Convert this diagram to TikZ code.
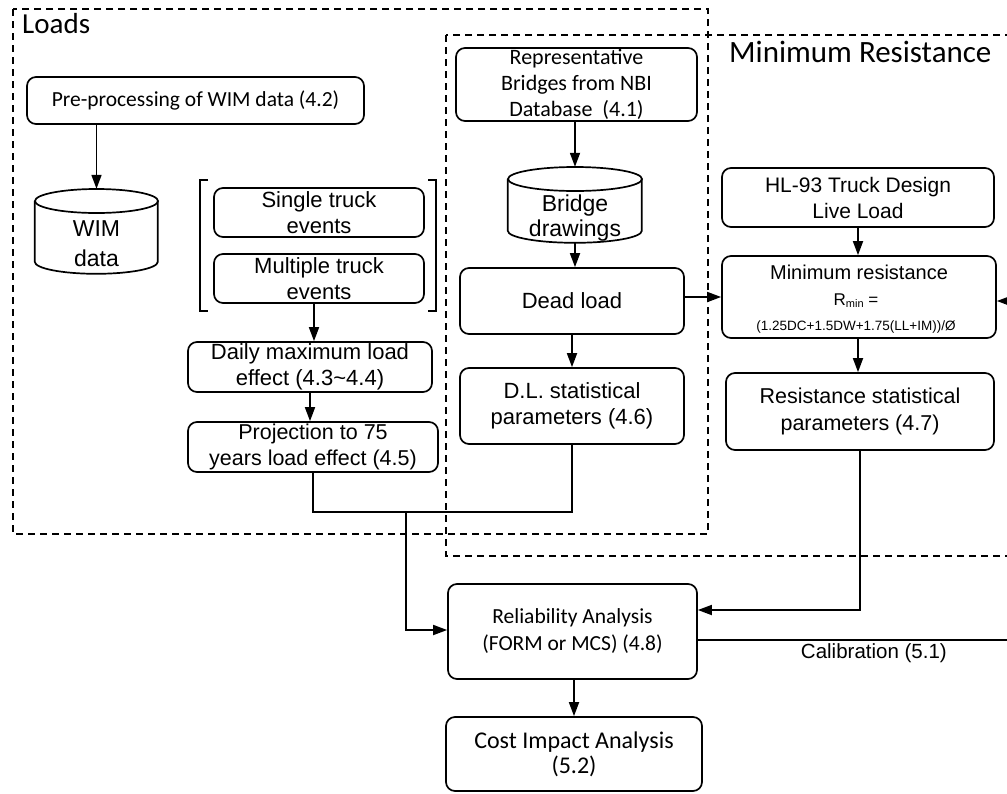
\documentclass[tikz,border=0pt]{standalone}
\usepackage{fontspec}
\newfontfamily\calf{Carlito}
\newfontfamily\arf{Liberation Sans}
\usetikzlibrary{arrows.meta}
\begin{document}
\begin{tikzpicture}[x=1pt,y=-1pt,
  box/.style={draw, line width=1.7pt, rounded corners=9pt, align=center, inner sep=0pt},
  ar/.style args={#1/#2}{font={\arf\fontsize{#1}{#2}\selectfont}},
  ca/.style args={#1/#2}{font={\calf\fontsize{#1}{#2}\selectfont}},
  arr/.style={line width=1.7pt, -{Triangle[length=14pt,width=10pt]}},
  wire/.style={line width=1.7pt},
  grp/.style={line width=1.5pt, dash pattern=on 7pt off 5pt},
]
\useasboundingbox (0,0) rectangle (1007,793);
\clip (0,0) rectangle (1007,793);

% groups
\draw[grp] (13,9) rectangle (708,534);
\draw[grp] (446,35) rectangle (1030,556);
\node[anchor=base west, inner sep=0pt, ca=29/29] (loadslbl) at (22,33) {Loads};
\node[anchor=base west, inner sep=0pt, ca=31/31] (minreslbl) at (729,62) {Minimum Resistance};

% loads column
\node[box, ca=21.5/26, minimum width=337pt, minimum height=47pt] (pre) at (195.5,100.5) {Pre-processing of WIM data (4.2)};
\node[minimum width=123pt, minimum height=85pt, inner sep=0pt] (wim) at (96.5,231.5) {};
\draw[wire] (wim.north west) ++(0,12) -- ++(0,61) arc[start angle=180, end angle=360, x radius=61.5pt, y radius=12pt] -- ++(0,-61);
\draw[wire] (96.5,201) ellipse [x radius=61.5pt, y radius=12pt];
\node[ar=23/30, align=center, inner sep=0pt] (wimtxt) at (96.5,243.6) {WIM\\data};

\draw[wire] (208,180) -- (200,180) -- (200,311) -- (208,311);
\draw[wire] (428,180) -- (436,180) -- (436,311) -- (428,311);
\node[box, ar=22/26, minimum width=210pt, minimum height=49pt] (single) at (319,212.5) {Single truck\\events};
\node[box, ar=22/26, minimum width=210pt, minimum height=49pt] (multi) at (319,278.5) {Multiple truck\\events};
\node[box, ar=22/26, minimum width=244pt, minimum height=50pt] (daily) at (310,367) {Daily maximum load\\effect (4.3\textasciitilde4.4)};
\node[box, ar=21.5/26, minimum width=250pt, minimum height=50pt] (proj) at (313,447) {Projection to 75\\years load effect (4.5)};

% dead load column
\node[box, ca=22/26, minimum width=241pt, minimum height=73pt] (rep) at (576.5,84.5) {Representative\\Bridges from NBI\\Database\ \ (4.1)};
\node[minimum width=134pt, minimum height=76pt, inner sep=0pt] (bridge) at (575,205) {};
\draw[wire] (bridge.north west) ++(0,12) -- ++(0,52) arc[start angle=180, end angle=360, x radius=67pt, y radius=12pt] -- ++(0,-52);
\draw[wire] (575,179) ellipse [x radius=67pt, y radius=12pt];
\node[ar=23/25, align=center, inner sep=0pt] (bridgetxt) at (575,218.5) {Bridge\\drawings};
\node[box, ar=22/26, minimum width=224pt, minimum height=66pt] (dead) at (572,301) {Dead load};
\node[box, ar=22/26, minimum width=224pt, minimum height=76pt] (dlstat) at (572,406) {D.L. statistical\\parameters (4.6)};

% resistance column
\node[box, ar=21/26, minimum width=272pt, minimum height=59pt] (hl) at (858,197.5) {HL-93 Truck Design\\Live Load};
\node[box, minimum width=274pt, minimum height=82pt] (minres) at (859,297) {};
\node[anchor=base, inner sep=0pt, ar=20/24] (mr1) at (859,279) {Minimum resistance};
\node[anchor=base, inner sep=0pt, ar=17/20] (mr2) at (856,305) {R\raisebox{-0.3ex}{\fontsize{11}{11}\selectfont min} =};
\node[anchor=base, inner sep=0pt, ar=13.5/16] (mr3) at (856,330) {(1.25DC+1.5DW+1.75(LL+IM))/Ø};
\node[box, ar=21.5/27, minimum width=268pt, minimum height=77pt] (resstat) at (860,411.5) {Resistance statistical\\parameters (4.7)};

% analysis
\node[box, ca=21.5/27, minimum width=249pt, minimum height=95pt] (rel) at (572.5,631.5) {Reliability Analysis\\(FORM or MCS) (4.8)};
\node[box, ca=24/25, minimum width=256pt, minimum height=74pt] (cost) at (574,754) {Cost Impact Analysis\\(5.2)};

% connectors
\draw[arr] (pre.south -| wim.north) -- (wim.north);
\draw[arr] ([xshift=-5pt]multi.south) -- ([xshift=-5pt]multi.south |- daily.north);
\draw[arr] (daily.south) -- (daily.south |- proj.north);
\draw[arr] (rep.south -| bridge.north) -- (bridge.north);
\draw[arr] (bridge.south) -- (bridge.south |- dead.north);
\draw[arr] (dead.south) -- (dead.south |- dlstat.north);
\draw[arr] ([yshift=4pt]dead.east) -- ([yshift=4pt]dead.east -| minres.west);
\draw[arr] (hl.south) -- (hl.south |- minres.north);
\draw[arr] (minres.south -| hl.south) -- (hl.south |- resstat.north);
\coordinate (rin) at (1030,301);
\draw[arr] (rin) -- (rin -| minres.east);

\coordinate (j) at (406,512);
\draw[wire] (proj.south) |- (j);
\draw[wire] (dlstat.south) |- (j);
\draw[arr] (j) |- ([yshift=1.5pt]rel.west);
\draw[arr] (resstat.south) |- ([yshift=21.5pt]rel.east);
\coordinate (calend) at (1030,640);
\draw[wire] ([yshift=-8.5pt]rel.east) -- (calend) node[pos=0.53, below, inner sep=3pt, ar=20.5/24] (callbl) {Calibration (5.1)};
\draw[arr] (rel.south -| cost.north) -- (cost.north);
\end{tikzpicture}
\end{document}
